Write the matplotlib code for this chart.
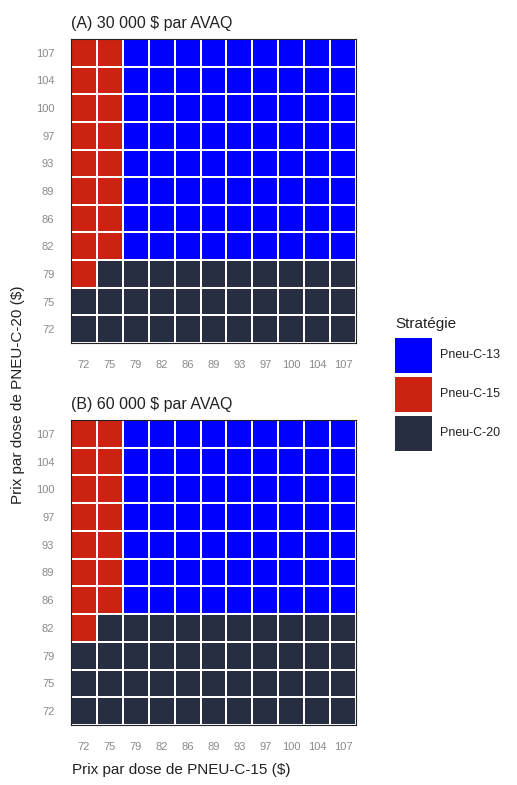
import numpy as np
import matplotlib.pyplot as plt
from matplotlib.colors import ListedColormap
from matplotlib.patches import Rectangle

prices = [72, 75, 79, 82, 86, 89, 93, 97, 100, 104, 107]
strategies = ["Pneu-C-13", "Pneu-C-15", "Pneu-C-20"]
colors = ["#0000fe", "#cc2212", "#282e42"]

# rows: PNEU-C-20 price (72 -> 107), cols: PNEU-C-15 price (72 -> 107)
# 0 = Pneu-C-13, 1 = Pneu-C-15, 2 = Pneu-C-20
grid_a = [
    [2, 2, 2, 2, 2, 2, 2, 2, 2, 2, 2],  # 72
    [2, 2, 2, 2, 2, 2, 2, 2, 2, 2, 2],  # 75
    [1, 2, 2, 2, 2, 2, 2, 2, 2, 2, 2],  # 79
    [1, 1, 0, 0, 0, 0, 0, 0, 0, 0, 0],  # 82
    [1, 1, 0, 0, 0, 0, 0, 0, 0, 0, 0],  # 86
    [1, 1, 0, 0, 0, 0, 0, 0, 0, 0, 0],  # 89
    [1, 1, 0, 0, 0, 0, 0, 0, 0, 0, 0],  # 93
    [1, 1, 0, 0, 0, 0, 0, 0, 0, 0, 0],  # 97
    [1, 1, 0, 0, 0, 0, 0, 0, 0, 0, 0],  # 100
    [1, 1, 0, 0, 0, 0, 0, 0, 0, 0, 0],  # 104
    [1, 1, 0, 0, 0, 0, 0, 0, 0, 0, 0],  # 107
]
grid_b = [
    [2, 2, 2, 2, 2, 2, 2, 2, 2, 2, 2],  # 72
    [2, 2, 2, 2, 2, 2, 2, 2, 2, 2, 2],  # 75
    [2, 2, 2, 2, 2, 2, 2, 2, 2, 2, 2],  # 79
    [1, 2, 2, 2, 2, 2, 2, 2, 2, 2, 2],  # 82
    [1, 1, 0, 0, 0, 0, 0, 0, 0, 0, 0],  # 86
    [1, 1, 0, 0, 0, 0, 0, 0, 0, 0, 0],  # 89
    [1, 1, 0, 0, 0, 0, 0, 0, 0, 0, 0],  # 93
    [1, 1, 0, 0, 0, 0, 0, 0, 0, 0, 0],  # 97
    [1, 1, 0, 0, 0, 0, 0, 0, 0, 0, 0],  # 100
    [1, 1, 0, 0, 0, 0, 0, 0, 0, 0, 0],  # 104
    [1, 1, 0, 0, 0, 0, 0, 0, 0, 0, 0],  # 107
]
titles = ["(A) 30 000 $ par AVAQ", "(B) 60 000 $ par AVAQ"]

plt.rcParams['font.family'] = ['Liberation Sans', 'DejaVu Sans']
cmap = ListedColormap(colors)

fig = plt.figure(figsize=(5.17, 7.85), dpi=100)
W, H = 517, 785
boxes = [(71, 39, 356, 343), (71, 420, 356, 725)]

for (x0, y0, x1, y1), grid, title in zip(boxes, [grid_a, grid_b], titles):
    ax = fig.add_axes([x0 / W, 1 - y1 / H, (x1 - x0) / W, (y1 - y0) / H])
    ax.pcolormesh(np.array(grid), cmap=cmap, vmin=-0.5, vmax=2.5,
                  edgecolors="white", linewidth=1.3)
    ax.set_xticks(np.arange(len(prices)) + 0.5)
    ax.set_xticklabels(prices)
    ax.set_yticks(np.arange(len(prices)) + 0.5)
    ax.set_yticklabels(prices)
    ax.tick_params(length=0, labelsize=8, colors="#8a8a8a", pad=12)
    ax.tick_params(axis="x", pad=12)
    ax.tick_params(axis="y", pad=12)
    for s in ax.spines.values():
        s.set_color("#222222")
        s.set_linewidth(0.8)
    ax.set_title(title, loc="left", fontsize=11.5, color="#222222", pad=8, x=0.0)

fig.text(72 / W, 1 - 770 / H, "Prix par dose de PNEU-C-15 ($)", fontsize=11,
         color="#222222", ha="left", va="center")
fig.text(18 / W, 1 - 395 / H, "Prix par dose de PNEU-C-20 ($)", fontsize=11,
         color="#222222", rotation=90, ha="center", va="center")

# legend
fig.text(395 / W, 1 - 324 / H, "Stratégie", fontsize=11, color="#222222",
         ha="left", va="center")
for i, (lab, col) in enumerate(zip(strategies, colors)):
    top = 338 + i * 39
    fig.patches.append(Rectangle((395 / W, 1 - (top + 35) / H), 37 / W, 35 / H,
                                 transform=fig.transFigure, facecolor=col,
                                 edgecolor="none"))
    fig.text(440 / W, 1 - (top + 17) / H, lab, fontsize=9, color="#222222",
             ha="left", va="center")

fig.savefig("out.png", dpi=100)
